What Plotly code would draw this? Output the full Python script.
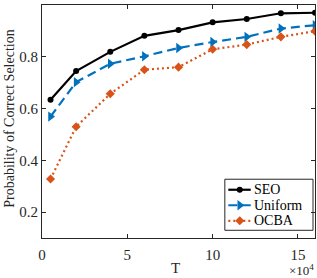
import plotly.graph_objects as go

T = [0.5, 2, 4, 6, 8, 10, 12, 14, 16]
seo = [0.634, 0.745, 0.819, 0.881, 0.903, 0.933, 0.946, 0.968, 0.970]
uniform = [0.569, 0.702, 0.773, 0.802, 0.834, 0.857, 0.877, 0.909, 0.922]
ocba = [0.328, 0.530, 0.657, 0.750, 0.760, 0.829, 0.847, 0.877, 0.899]
names = ["SEO", "Uniform", "OCBA"]

FONT = "Liberation Serif"
AX = "#262626"
COLORS = ["black", "#0072BD", "#D95319"]
DASHES = ["solid", "9px,5px", "2px,3px"]
SYMBOLS = ["circle", "triangle-right", "diamond"]
MSIZE = [6, 9, 7]

# plot area in pixels
L, R, TOP, BOT = 41.5, 315.5, 5.0, 237.7
W, H = 317, 278

fig = go.Figure()
for name, vals, c, d, s, ms in zip(names, [seo, uniform, ocba], COLORS, DASHES, SYMBOLS, MSIZE):
    fig.add_trace(go.Scatter(x=T, y=vals, name=name, mode="lines+markers",
                             line=dict(color=c, width=2.2, dash=d),
                             marker=dict(symbol=s, size=ms, color=c),
                             showlegend=False))

# manual legend drawn on a pixel-coordinate overlay axis
bx0, bx1, by0, by1 = 225, 313.5, 179, 230
fig.add_trace(go.Scatter(x=[bx0, bx1, bx1, bx0, bx0], y=[by0, by0, by1, by1, by0],
                         xaxis="x2", yaxis="y2", mode="lines", fill="toself",
                         fillcolor="white", line=dict(color=AX, width=1),
                         hoverinfo="skip", showlegend=False))
rows = [189.5, 205, 220.5]
for name, c, d, s, ms, ry in zip(names, COLORS, DASHES, SYMBOLS, MSIZE, rows):
    fig.add_trace(go.Scatter(x=[228.5, 251], y=[ry, ry], xaxis="x2", yaxis="y2",
                             mode="lines", line=dict(color=c, width=2.2, dash=d),
                             hoverinfo="skip", showlegend=False))
    fig.add_trace(go.Scatter(x=[240], y=[ry], xaxis="x2", yaxis="y2", mode="markers",
                             marker=dict(symbol=s, size=ms, color=c),
                             hoverinfo="skip", showlegend=False))
    fig.add_annotation(text=name, x=252.5, y=ry, xref="x2", yref="y2",
                       xanchor="left", yanchor="middle", showarrow=False,
                       font=dict(family=FONT, size=14, color="black"))

axis_common = dict(showline=True, linecolor=AX, linewidth=1, mirror="ticks",
                   ticks="inside", ticklen=4, tickcolor=AX, showgrid=False,
                   zeroline=False, tickfont=dict(family=FONT, size=15, color=AX),
                   automargin=False)

fig.update_layout(
    xaxis=dict(range=[0, 16], tickvals=[0, 5, 10, 15], ticktext=["0", "5", "10", "15"],
               ticklabelstandoff=3, **axis_common),
    yaxis=dict(range=[0.1, 1], tickvals=[0.2, 0.4, 0.6, 0.8, 1],
               ticktext=["0.2", "0.4", "0.6", "0.8", "1"], **axis_common),
    xaxis2=dict(overlaying="x", range=[L, R], visible=False, fixedrange=True),
    yaxis2=dict(overlaying="y", range=[BOT, TOP], visible=False, fixedrange=True),
)

pw, ph = R - L, BOT - TOP
# y-axis title
fig.add_annotation(text="Probability of Correct Selection", textangle=-90,
                   xref="paper", yref="paper", x=(9 - L) / pw, y=(BOT - 119) / ph,
                   xanchor="center", yanchor="middle", showarrow=False,
                   font=dict(family=FONT, size=14, color=AX))
# x-axis title
fig.add_annotation(text="T", xref="paper", yref="paper", x=(175 - L) / pw, y=(BOT - 268) / ph,
                   xanchor="center", yanchor="middle", showarrow=False,
                   font=dict(family=FONT, size=15, color=AX))
# exponent
fig.add_annotation(text="×10<sup>4</sup>", xref="paper", yref="paper",
                   x=(317 - L) / pw, y=(BOT - 270) / ph,
                   xanchor="right", yanchor="middle", showarrow=False,
                   font=dict(family=FONT, size=13, color=AX))

fig.update_layout(
    width=W, height=H,
    margin=dict(l=L, r=W - R, t=TOP, b=H - BOT),
    plot_bgcolor="white", paper_bgcolor="white",
    font=dict(family=FONT, color=AX),
    showlegend=False,
)

fig.write_html("out.html", config={"displayModeBar": False})
with open("out.html", "r", encoding="utf-8") as f:
    html = f.read()
html = html.replace("<head>", "<head><style>html,body{margin:0;padding:0;overflow:hidden;}</style>", 1)
with open("out.html", "w", encoding="utf-8") as f:
    f.write(html)
